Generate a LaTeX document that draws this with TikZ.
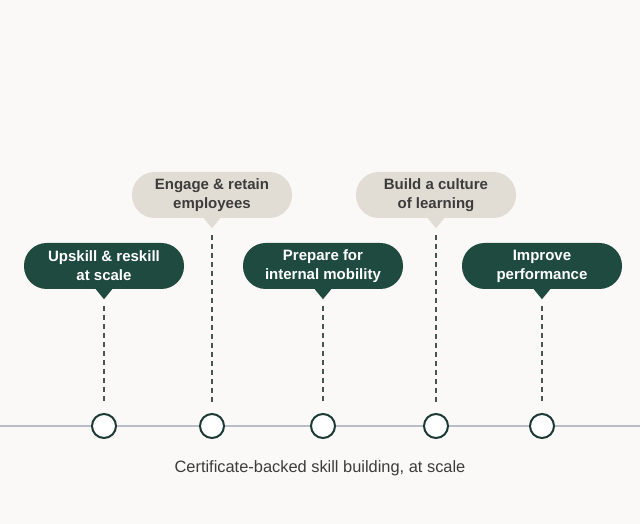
\documentclass[tikz,border=0pt]{standalone}
\usepackage{fontspec}
\setmainfont{Liberation Sans}
\usetikzlibrary{positioning,calc}

\definecolor{bgpaper}{HTML}{FAF9F7}
\definecolor{darkgreen}{HTML}{1F4A3F}
\definecolor{sandbeige}{HTML}{E2DDD4}
\definecolor{inkgrey}{HTML}{3C3C3C}
\definecolor{railgrey}{HTML}{B9BDC6}
\definecolor{ringdark}{HTML}{1E3A36}
\definecolor{dashgrey}{HTML}{4A5553}

\begin{document}
\begin{tikzpicture}[
  x=0.75pt, y=0.75pt,
  every node/.style={font=\fontsize{11.25pt}{14.25pt}\selectfont},
  bubble/.style={rounded corners=17pt, align=center, minimum width=120pt, minimum height=34.5pt, inner sep=0pt, font=\fontsize{11.25pt}{14.25pt}\selectfont\bfseries},
  darkbubble/.style={bubble, fill=darkgreen, text=white},
  lightbubble/.style={bubble, fill=sandbeige, text=inkgrey},
  milestone/.style={circle, draw=ringdark, line width=1.5pt, fill=white, minimum size=18pt, inner sep=0pt},
  drop/.style={dash pattern=on 3.75pt off 3pt, draw=dashgrey, line width=0.85pt, shorten <=5, shorten >=7}
]
\fill[bgpaper] (0,0) rectangle (640,524);
\useasboundingbox (0,0) rectangle (640,524);

% timeline
\coordinate (railL) at (0,98);
\coordinate (railR) at (640,98);
\draw[railgrey, line width=1pt] (railL) -- (railR);

% bubbles
\node[darkbubble] (upskill) at (104,258) {Upskill \& reskill\\at scale};
\node[lightbubble] (engage) at (212,329) {Engage \& retain\\employees};
\node[darkbubble] (prepare) at (323,258) {Prepare for\\internal mobility};
\node[lightbubble] (culture) at (436,329) {Build a culture\\of learning};
\node[darkbubble] (improve) at (542,258) {Improve\\performance};

% pointers
\fill[darkgreen] ($(upskill.south)+(-9,1)$) -- ++(18,0) -- ($(upskill.south)+(0,-10)$) coordinate (tipA) -- cycle;
\fill[sandbeige] ($(engage.south)+(-9,1)$) -- ++(18,0) -- ($(engage.south)+(0,-10)$) coordinate (tipB) -- cycle;
\fill[darkgreen] ($(prepare.south)+(-9,1)$) -- ++(18,0) -- ($(prepare.south)+(0,-10)$) coordinate (tipC) -- cycle;
\fill[sandbeige] ($(culture.south)+(-9,1)$) -- ++(18,0) -- ($(culture.south)+(0,-10)$) coordinate (tipD) -- cycle;
\fill[darkgreen] ($(improve.south)+(-9,1)$) -- ++(18,0) -- ($(improve.south)+(0,-10)$) coordinate (tipE) -- cycle;

% milestones
\node[milestone] (m1) at (104,98) {};
\node[milestone] (m2) at (212,98) {};
\node[milestone] (m3) at (323,98) {};
\node[milestone] (m4) at (436,98) {};
\node[milestone] (m5) at (542,98) {};

\draw[drop] (tipA) -- (m1);
\draw[drop] (tipB) -- (m2);
\draw[drop] (tipC) -- (m3);
\draw[drop] (tipD) -- (m4);
\draw[drop] (tipE) -- (m5);

\node[text=inkgrey, font=\fontsize{12.3pt}{15pt}\selectfont] (caption) at (320,56) {Certificate-backed skill building, at scale};
\end{tikzpicture}
\end{document}
